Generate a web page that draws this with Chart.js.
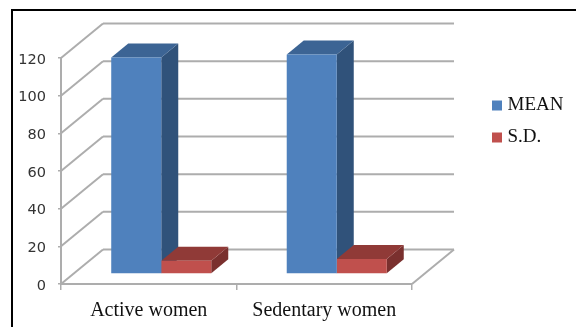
<!DOCTYPE html>
<html>
<head>
<meta charset="utf-8">
<style>html,body{margin:0;padding:0;background:#fff}canvas{display:block}</style>
<script src="https://cdn.jsdelivr.net/npm/chart.js@4/dist/chart.umd.min.js"></script>
</head>
<body>
<canvas id="chart" width="576" height="327"></canvas>
<script>
const categories = ['Active women', 'Sedentary women'];
const meanValues = [115, 116.5];
const sdValues = [7, 8];
const yTicks = [0, 20, 40, 60, 80, 100, 120];

const GRID = '#adadad';
const FLOOR_DEPTH = { x: 42, y: -34.5 };
const BAR_OFFSET = { x: 12.5, y: -10 };
const BAR_DEPTH = { x: 17, y: -14 };
const FACES = [
  { top: '#3c6494', side: '#30527a' },
  { top: '#903a37', side: '#7a302e' }
];

function stroke(ctx, x1, y1, x2, y2) {
  ctx.beginPath();
  ctx.moveTo(x1, y1);
  ctx.lineTo(x2, y2);
  ctx.stroke();
}

function quad(ctx, pts, fill) {
  ctx.fillStyle = fill;
  ctx.beginPath();
  pts.forEach((p, i) => (i ? ctx.lineTo(p[0], p[1]) : ctx.moveTo(p[0], p[1])));
  ctx.closePath();
  ctx.fill();
}

// Back wall, side wall and floor of the 3D box, plus the outer frame.
const wallsPlugin = {
  id: 'walls',
  beforeDraw(chart) {
    const { ctx, scales: { x, y } } = chart;
    ctx.save();
    ctx.strokeStyle = '#000';
    ctx.lineWidth = 2;
    stroke(ctx, 12, 10, 12, chart.height);
    stroke(ctx, 11, 10, chart.width, 10);
    ctx.strokeStyle = GRID;
    ctx.lineWidth = 2;
    yTicks.forEach(v => {
      const py = y.getPixelForValue(v);
      stroke(ctx, x.left, py, x.left + FLOOR_DEPTH.x, py + FLOOR_DEPTH.y);
      stroke(ctx, x.left + FLOOR_DEPTH.x, py + FLOOR_DEPTH.y, x.right + FLOOR_DEPTH.x, py + FLOOR_DEPTH.y);
    });
    const floor = y.getPixelForValue(0);
    stroke(ctx, x.right, floor, x.right + FLOOR_DEPTH.x, floor + FLOOR_DEPTH.y);
    ctx.restore();
  }
};

// Shifts the bars into the box and extrudes their top and side faces.
const extrudePlugin = {
  id: 'extrude',
  beforeDatasetsDraw(chart) {
    const { ctx } = chart;
    ctx.save();
    ctx.translate(BAR_OFFSET.x, BAR_OFFSET.y);
    chart.data.datasets.forEach((ds, i) => {
      chart.getDatasetMeta(i).data.forEach(bar => {
        const { x, y, base, width } = bar.getProps(['x', 'y', 'base', 'width'], true);
        const l = x - width / 2, r = x + width / 2;
        const dx = BAR_DEPTH.x, dy = BAR_DEPTH.y;
        quad(ctx, [[r, y], [r + dx, y + dy], [r + dx, base + dy], [r, base]], FACES[i].side);
        quad(ctx, [[l, y], [l + dx, y + dy], [r + dx, y + dy], [r, y]], FACES[i].top);
      });
    });
  },
  afterDatasetsDraw(chart) {
    chart.ctx.restore();
  }
};

// Places the legend in the column to the right of the box.
const legendPlacement = {
  id: 'legendPlacement',
  afterLayout(chart) {
    const lg = chart.legend;
    const w = lg.right - lg.left, h = lg.bottom - lg.top;
    lg.left = 483;
    lg.right = lg.left + w;
    lg.top = 83;
    lg.bottom = lg.top + h;
  }
};

new Chart(document.getElementById('chart'), {
  type: 'bar',
  data: {
    labels: categories,
    datasets: [
      { label: 'MEAN', data: meanValues, backgroundColor: '#4f81bd', pointStyle: 'rect' },
      { label: 'S.D.', data: sdValues, backgroundColor: '#c0504d', pointStyle: 'rect' }
    ]
  },
  plugins: [wallsPlugin, extrudePlugin, legendPlacement],
  options: {
    responsive: false,
    animation: false,
    events: [],
    layout: { padding: { left: 0, top: 58, right: 164, bottom: 0 } },
    datasets: { bar: { barPercentage: 1, categoryPercentage: 0.57, borderWidth: 0 } },
    scales: {
      x: {
        grid: { drawOnChartArea: false, color: GRID, lineWidth: 1.5, tickLength: 6 },
        border: { color: GRID, width: 2 },
        ticks: { color: '#111', padding: 9, maxRotation: 0, font: { family: 'Liberation Serif', size: 20 } },
        afterFit(s) { s.height = 43; }
      },
      y: {
        min: 0, max: 120,
        grid: { drawOnChartArea: false, color: GRID, lineWidth: 1.5, tickLength: 3 },
        border: { color: GRID, width: 2 },
        ticks: { stepSize: 20, color: '#333', padding: 12, labelOffset: 2, font: { family: 'DejaVu Sans', size: 14.5 } },
        afterFit(s) { s.width = 61; }
      }
    },
    plugins: {
      title: { display: false },
      tooltip: { enabled: false },
      legend: {
        position: 'chartArea',
        align: 'start',
        labels: {
          usePointStyle: true,
          boxWidth: 2,
          boxHeight: 10,
          padding: 13,
          color: '#111',
          font: { family: 'Liberation Serif', size: 19 }
        }
      }
    }
  }
});
</script>
</body>
</html>
